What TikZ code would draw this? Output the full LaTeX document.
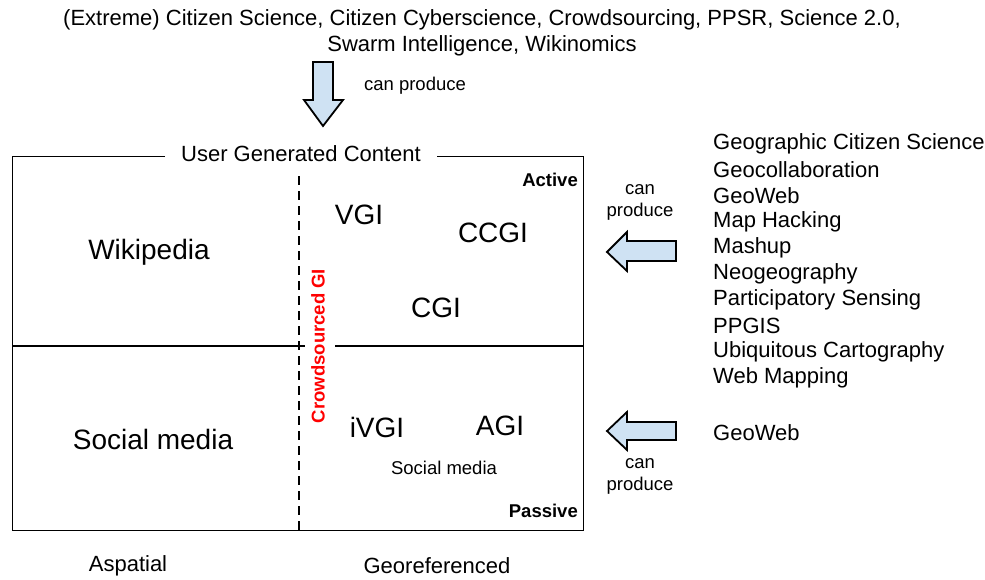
\documentclass[tikz,border=0pt]{standalone}
\usepackage{fontspec}
\setmainfont{Liberation Sans}
\definecolor{arrowfill}{HTML}{CFE2F3}
\begin{document}
\begin{tikzpicture}[x=1pt,y=-1pt,
  txt/.style={inner sep=0pt,anchor=center},
  bigarrow/.style={draw=black,line width=1.8pt,fill=arrowfill,line join=miter},
  list/.style={inner sep=0pt,anchor=west,font=\fontsize{22}{26}\selectfont}]
\useasboundingbox (0,0) rectangle (985,579);
% title
\node[txt,font=\fontsize{22}{26}\selectfont,align=center] (title) at (482,33)
  {(Extreme) Citizen Science, Citizen Cyberscience, Crowdsourcing, PPSR, Science 2.0,\\Swarm Intelligence, Wikinomics};
% down arrow
\draw[bigarrow] (313,62) -- (333,62) -- (333,100) -- (343,100) -- (323,126) -- (304,100) -- (313,100) -- cycle;
\node[txt,font=\fontsize{18.5}{22}\selectfont] (cp1) at (415,86) {can produce};
% box
\coordinate (tl) at (12,156);
\coordinate (tr) at (583,156);
\coordinate (bl) at (12,530);
\coordinate (br) at (583,530);
\draw[line width=1pt] (165,156) -- (tl) -- (bl) -- (br) -- (tr) -- (437,156);
\node[txt,font=\fontsize{22}{26}\selectfont] (ugc) at (301,154) {User Generated Content};
% horizontal divider
\coordinate (ml) at (12,346);
\coordinate (mm) at (305,346);
\coordinate (mr0) at (335,346);
\coordinate (mr) at (583,346);
\draw[line width=1.5pt] (ml) -- (mm);
\draw[line width=1.5pt] (mr0) -- (mr);
% vertical dashed
\coordinate (vt) at (299,176);
\coordinate (vb) at (299,530);
\draw[line width=1.5pt,dash pattern=on 9pt off 6pt] (vt) -- (vb);
\node[txt,rotate=90,text=red,font=\bfseries\fontsize{18.5}{22}\selectfont] (cgi) at (318,346) {Crowdsourced GI};
% labels in box
\node[txt,font=\bfseries\fontsize{18.5}{22}\selectfont,anchor=east] (active) at (578,180) {Active};
\node[txt,font=\bfseries\fontsize{18.5}{22}\selectfont,anchor=east] (passive) at (578,511) {Passive};
\node[txt,font=\fontsize{28}{32}\selectfont] (wiki) at (149,252) {Wikipedia};
\node[txt,font=\fontsize{28}{32}\selectfont] (sm) at (153,439) {Social media};
\node[txt,font=\fontsize{28}{32}\selectfont] (vgi) at (359,215) {VGI};
\node[txt,font=\fontsize{28}{32}\selectfont] (ccgi) at (493,233) {CCGI};
\node[txt,font=\fontsize{28}{32}\selectfont] (cgi2) at (436,308) {CGI};
\node[txt,font=\fontsize{28}{32}\selectfont] (ivgi) at (377,427) {iVGI};
\node[txt,font=\fontsize{28}{32}\selectfont] (agi) at (500,426) {AGI};
\node[txt,font=\fontsize{18.5}{22}\selectfont] (sm2) at (444,468) {Social media};
% bottom labels
\node[txt,font=\fontsize{22}{26}\selectfont] (asp) at (128,566) {Aspatial};
\node[txt,font=\fontsize{22}{26}\selectfont] (geo) at (437,566) {Georeferenced};
% left arrows
\draw[bigarrow] (676,241) -- (627,241) -- (627,232) -- (607,252) -- (627,271) -- (627,261) -- (676,261) -- cycle;
\node[txt,font=\fontsize{18.5}{22}\selectfont,align=center] (cp2) at (640,202) {can\\produce};
\draw[bigarrow] (676,422) -- (627,422) -- (627,412) -- (607,431) -- (627,450) -- (627,440) -- (676,440) -- cycle;
\node[txt,font=\fontsize{18.5}{22}\selectfont,align=center] (cp3) at (640,476) {can\\produce};
% right list
\node[list] (l1) at (713,144) {Geographic Citizen Science};
\node[list] (l2) at (713,170) {Geocollaboration};
\node[list] (l3) at (713,196) {GeoWeb};
\node[list] (l4) at (713,222) {Map Hacking};
\node[list] (l5) at (713,248) {Mashup};
\node[list] (l6) at (713,274) {Neogeography};
\node[list] (l7) at (713,300) {Participatory Sensing};
\node[list] (l8) at (713,326) {PPGIS};
\node[list] (l9) at (713,352) {Ubiquitous Cartography};
\node[list] (l10) at (713,378) {Web Mapping};
\node[list] (l11) at (713,433) {GeoWeb};
\end{tikzpicture}
\end{document}
